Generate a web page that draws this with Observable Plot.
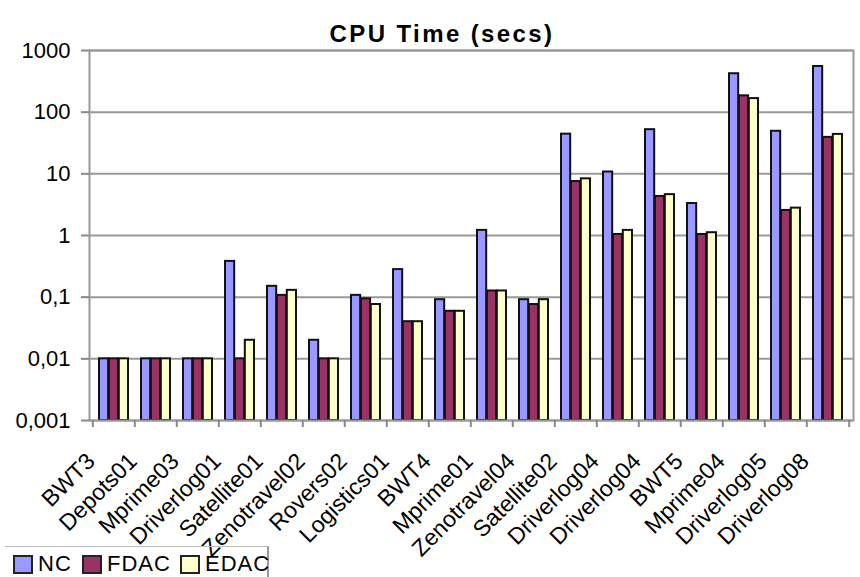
<!DOCTYPE html>
<html>
<head>
<meta charset="utf-8">
<script src="https://cdn.jsdelivr.net/npm/d3@7"></script>
<script src="https://cdn.jsdelivr.net/npm/@observablehq/plot@0.6"></script>
<style>
  body { margin: 0; background: white; font-family: "Liberation Sans", Arial, sans-serif; }
  #wrap { width: 860px; height: 577px; overflow: hidden; position: relative; }
  #title { box-sizing: border-box; height: 46px; padding-top: 22px; padding-left: 24px; font-size: 24px; line-height: 24px; font-weight: bold; text-align: center; letter-spacing: 2.4px; color: #000; }
  #legend { position: absolute; left: 5px; top: 546px; width: 262px; height: 40px; border-top: 1px solid #bbb; border-right: 2px solid #999; font-size: 22px; letter-spacing: 1px; }
  .item { position: absolute; top: 5px; display: flex; align-items: center; line-height: 24px; }
  .sw { width: 16px; height: 15px; border: 2px solid #222; margin-right: 5px; }
</style>
</head>
<body>
<div id="wrap">
  <div id="title">CPU Time (secs)</div>
  <div id="chart"></div>
  <div id="legend"></div>
</div>
<script>
const categories = ["BWT3","Depots01","Mprime03","Driverlog01","Satellite01","Zenotravel02","Rovers02","Logistics01","BWT4","Mprime01","Zenotravel04","Satellite02","Driverlog04","Driverlog04","BWT5","Mprime04","Driverlog05","Driverlog08"];
const seriesNames = ["NC", "FDAC", "EDAC"];
const ncValues   = [0.01, 0.01, 0.01, 0.38, 0.15, 0.02, 0.107, 0.28, 0.091, 1.21, 0.091, 44, 10.7, 52, 3.3, 420, 49, 550];
const fdacValues = [0.01, 0.01, 0.01, 0.01, 0.107, 0.01, 0.094, 0.04, 0.059, 0.126, 0.076, 7.5, 1.04, 4.3, 1.04, 184, 2.55, 39];
const edacValues = [0.01, 0.01, 0.01, 0.02, 0.129, 0.01, 0.076, 0.04, 0.059, 0.126, 0.091, 8.3, 1.21, 4.6, 1.11, 166, 2.78, 43.6];
const seriesColors = ["#9999FF", "#993366", "#FFFFCC"];
const yTicks = [0.001, 0.01, 0.1, 1, 10, 100, 1000];
const yTickLabels = ["0,001", "0,01", "0,1", "1", "10", "100", "1000"];

const seriesValues = [ncValues, fdacValues, edacValues];
const width = 860, marginLeft = 89, marginRight = 7, marginTop = 4, marginBottom = 127;
const n = categories.length;
const paddingInner = 0.3, paddingOuter = 0.15;
const step = (width - marginLeft - marginRight) / (n - paddingInner + 2 * paddingOuter);
const barW = step * (1 - paddingInner) / seriesNames.length;
const idx = d3.range(n);
const yBase = yTicks[0];

const barMarks = seriesValues.map((vals, k) =>
  Plot.barY(idx, {
    x: i => i,
    y1: () => yBase,
    y2: i => vals[i],
    fill: seriesColors[k],
    stroke: "#111",
    strokeWidth: 2,
    insetLeft: k * barW,
    insetRight: (seriesNames.length - 1 - k) * barW
  })
);

const chart = Plot.plot({
  width,
  height: marginTop + 370 + marginBottom,
  marginLeft, marginRight, marginTop, marginBottom,
  style: { background: "transparent", overflow: "visible", fontFamily: "'Liberation Sans', Arial, sans-serif", fontSize: "22px", color: "#000" },
  x: { type: "band", domain: idx, paddingInner, paddingOuter },
  y: { type: "log", domain: [yTicks[0], yTicks[yTicks.length - 1]] },
  marks: [
    Plot.gridY({ ticks: yTicks, stroke: "#999", strokeOpacity: 1, strokeWidth: 2 }),
    ...barMarks,
    Plot.frame({ stroke: "#999", strokeWidth: 2 }),
    Plot.axisY({ ticks: yTicks, tickFormat: d => yTickLabels[yTicks.indexOf(d)], tickSize: 8, tickPadding: 11, stroke: "#888", strokeWidth: 2, fontSize: 22 }),
    Plot.axisX({ tickFormat: () => "", tickSize: 7, dx: -step / 2, stroke: "#888", strokeWidth: 2 }),
    Plot.axisX({ ticks: [n - 1], tickFormat: () => "", tickSize: 7, dx: step / 2, stroke: "#888", strokeWidth: 2 }),
    Plot.axisX({ tickFormat: i => categories[i], tickRotate: -45, tickSize: 0, tickPadding: 14, dx: -23, dy: 23, fontSize: 23 })
  ]
});
document.getElementById("chart").appendChild(chart);

const legend = document.getElementById("legend");
const lefts = [8, 77, 175];
seriesNames.forEach((name, k) => {
  const it = document.createElement("div");
  it.className = "item";
  it.style.left = lefts[k] + "px";
  const sw = document.createElement("div");
  sw.className = "sw";
  sw.style.background = seriesColors[k];
  it.appendChild(sw);
  const t = document.createElement("span");
  t.textContent = name;
  it.appendChild(t);
  legend.appendChild(it);
});
</script>
</body>
</html>
